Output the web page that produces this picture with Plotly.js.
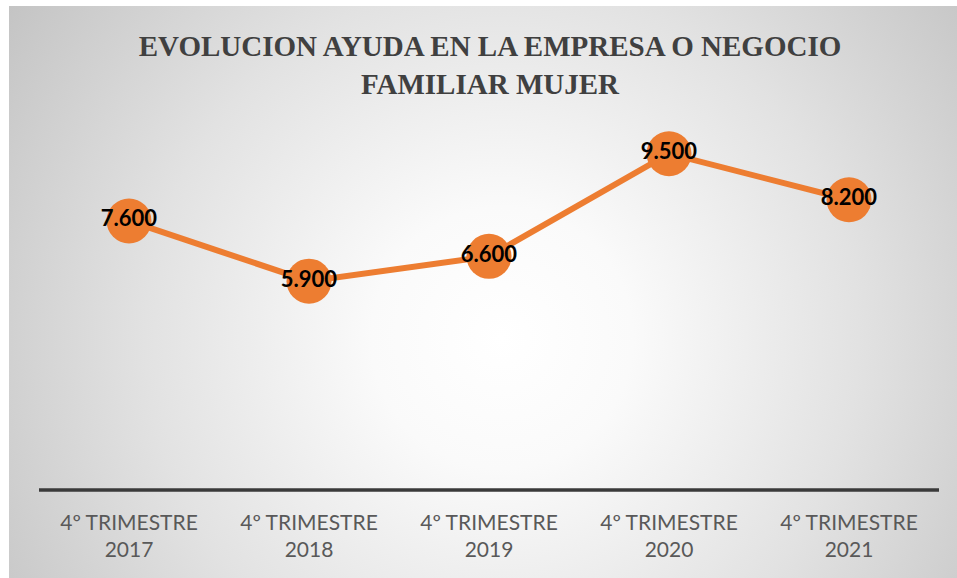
<!DOCTYPE html>
<html>
<head>
<meta charset="utf-8">
<script src="https://cdn.plot.ly/plotly-3.0.1.min.js"></script>
<style>
  html, body { margin: 0; padding: 0; background: #ffffff; }
  #wrap { position: relative; width: 957px; height: 578px; }
  #bg { position: absolute; left: 9px; top: 6px; width: 948px; height: 572px;
        background: radial-gradient(circle farthest-corner at 52% 58%, #ffffff 0%, #fafafa 22%, #e2e2e2 60%, #c4c4c4 100%); }
  #chart { position: absolute; left: 0; top: 0; width: 957px; height: 578px; }
</style>
</head>
<body>
<div id="wrap"><div id="bg"></div><div id="chart"></div></div>
<script>
const categories = ["4º TRIMESTRE<br>2017", "4º TRIMESTRE<br>2018", "4º TRIMESTRE<br>2019", "4º TRIMESTRE<br>2020", "4º TRIMESTRE<br>2021"];
const values = [7600, 5900, 6600, 9500, 8200];
const titleText = "EVOLUCION AYUDA EN LA EMPRESA O NEGOCIO<br>FAMILIAR MUJER";

const trace = {
  type: "scatter",
  mode: "lines+markers+text",
  x: categories,
  y: values,
  line: { color: "#ED7D31", width: 6 },
  marker: { color: "#ED7D31", size: 45, line: { width: 0 } },
  text: values,
  texttemplate: "%{y:,}",
  textposition: "middle center",
  textfont: { family: "Lato, 'Open Sans', sans-serif", size: 22, color: "#000000", weight: "bold" },
  cliponaxis: false,
  hoverinfo: "skip"
};

const layout = {
  width: 957, height: 578,
  paper_bgcolor: "rgba(0,0,0,0)",
  plot_bgcolor: "rgba(0,0,0,0)",
  separators: ",.",
  showlegend: false,
  margin: { l: 39, r: 18, t: 136, b: 88 },
  title: {
    text: titleText,
    font: { family: "'Liberation Serif', serif", size: 29, color: "#404040", weight: "bold" },
    x: 0.512, xanchor: "center",
    y: 0.903, yanchor: "top"
  },
  xaxis: {
    type: "category",
    range: [-0.5, 4.5],
    showgrid: false,
    zeroline: false,
    showline: false,
    ticks: "",
    tickfont: { family: "Lato, 'Open Sans', sans-serif", size: 21, color: "#595959" },
    ticklabelstandoff: 18
  },
  yaxis: {
    range: [0, 10000],
    visible: false,
    showgrid: false,
    zeroline: false,
    fixedrange: true
  },
  shapes: [{
    type: "line", xref: "paper", yref: "paper",
    x0: 0, x1: 1, y0: 0, y1: 0,
    line: { color: "#3a3a3a", width: 3.5 },
    layer: "above"
  }]
};

Plotly.newPlot("chart", [trace], layout, { displayModeBar: false, staticPlot: true });
</script>
</body>
</html>
